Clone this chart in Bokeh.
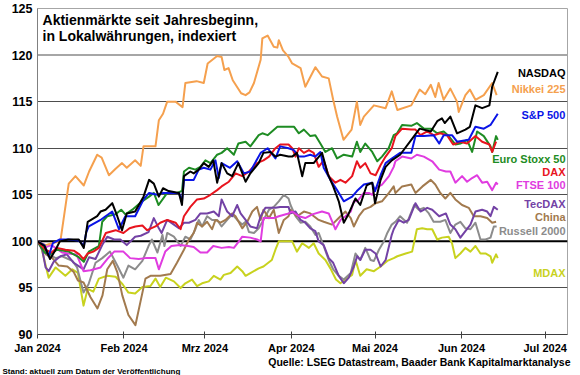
from bokeh.plotting import figure
from bokeh.models import Label, Span, FixedTicker, Title
from bokeh.embed import file_html
from bokeh.resources import INLINE

# ---------------- data (day offset from 1 Jan 2024, index value) ----------------
nasdaq = [(0,100),(2.5,99.5),(4.5,98.1),(6.5,99.1),(8,100.0),(11,100.2),(14.8,100.2),(16.6,99.3),(18,102.1),(21.4,102.7),(22.6,103.2),(24.4,103.4),(26.8,104.1),(28.6,102.7),(30.3,101.2),(32,103.0),(35,103.2),(38,104.8),(40,106.6),(41.7,106.2),(43.5,104.8),(45,105.7),(47,105.4),(50.7,105.2),(51.8,103.9),(52.5,107.0),(54.8,107.5),(56,107.3),(57.8,107.7),(59.6,108.4),(61.4,108.0),(63,108.7),(64.4,106.3),(66,108.4),(68,107.3),(69.8,107.0),(72,108.4),(74.6,106.4),(76.3,107.3),(79.3,108.4),(81,109.5),(83.5,109.6),(85.3,109.1),(87,109.3),(90,109.1),(91.3,109.1),(93,109.5),(94.9,107.0),(96,108.4),(99,108.4),(102,109.5),(104,107.3),(106,105.9),(108,104.3),(109.8,102.0),(111.6,103.0),(114,104.6),(115.7,103.9),(118,106.0),(120,106.3),(121,104.1),(123,106.6),(124.8,108.0),(127,108.7),(130,109.3),(135,111.3),(137,112.1),(141,111.8),(143.3,112.9),(145,113.2),(146,112.7),(148,113.4),(150.4,111.6),(153.4,112.0),(155,112.3),(157,114.6),(159.4,114.3),(162,114.6),(163,116.6),(165,118.2)]
nikkei = [(0,100),(3,99.6),(5,99.8),(8.2,100.0),(11.2,106.2),(13.6,107.0),(16.6,106.0),(18.5,107.5),(21.4,109.3),(23,109.0),(25.6,107.1),(28,107.8),(30.3,108.4),(32,107.9),(35,108.7),(37,108.1),(38,110.2),(42.3,110.2),(43.5,113.0),(45,113.7),(46.5,115.0),(49.5,115.0),(52,114.4),(53,117.0),(57,117.2),(59.6,117.0),(61,119.1),(64.4,119.9),(66,119.8),(67,118.4),(68.5,118.6),(70,117.3),(73,115.9),(74.6,115.7),(76,116.0),(77.6,117.0),(80,119.5),(80.6,121.8),(82.5,122.1),(84.7,120.9),(86,120.8),(86.5,121.6),(88,120.5),(90,119.8),(91.3,119.1),(94.3,118.6),(96,116.6),(99.6,118.7),(102,117.7),(104.4,117.5),(106,115.2),(107.4,113.4),(109.7,110.9),(112.6,112.0),(114.5,115.0),(115.7,112.5),(117,113.4),(120.6,114.6),(124.8,114.3),(127,116.1),(129,114.1),(134,114.6),(137,116.3),(139,115.8),(141,116.8),(142.6,115.5),(143.8,117.0),(145.6,115.2),(148,116.4),(150.4,115.0),(151,113.9),(153.4,115.7),(155,116.3),(157,115.2),(160,115.7),(163,117.0),(164.6,115.7)]
sp500 = [(0,100),(2.5,99.6),(4,98.4),(5.5,99.8),(8,100.2),(11,100.2),(14.8,100.1),(16.6,99.5),(17.5,101.0),(18.4,101.6),(22.6,102.3),(24.4,102.7),(26.8,103.2),(29.2,101.3),(31.5,102.7),(35,102.7),(38,104.5),(40,105.2),(43,105.0),(45,105.2),(47,105.2),(50.7,105.2),(51.8,104.3),(52.5,106.6),(56,106.6),(57.8,107.7),(59.6,107.9),(62,107.7),(63.8,108.7),(65,106.8),(66,108.4),(69,107.9),(71.6,108.6),(74,107.3),(76.3,107.5),(80,109.5),(82.5,110.0),(85.3,108.9),(87,110.2),(90,110.0),(91.9,109.8),(93.7,109.1),(95.5,109.1),(97.8,109.3),(99.6,109.1),(101.4,109.6),(102.6,107.9),(105,106.6),(107.4,105.5),(109.8,104.3),(112.8,104.8),(114.5,105.4),(117,106.1),(120,106.3),(121,105.4),(123,107.1),(124.8,108.4),(127,108.9),(130,109.5),(134,109.5),(135.5,111.3),(138.5,111.3),(142,111.4),(144,110.5),(145.6,111.4),(148.6,111.4),(150.4,110.7),(154.6,110.9),(157,112.3),(160,112.1),(162.4,112.5),(165,113.7)]
stoxx50 = [(0,100),(2.5,98.8),(4.5,98.6),(7,99.1),(11.2,98.9),(14.8,98.3),(16.6,97.8),(18.4,98.9),(22,99.5),(23.2,102.1),(25,102.7),(28,102.9),(30,103.4),(31.5,102.9),(34,103.4),(37.5,104.3),(40,104.8),(41.7,105.2),(43.4,103.9),(46.5,105.2),(50,105.2),(51.8,105.4),(52.5,107.5),(54.3,107.9),(56.6,107.7),(58.4,108.0),(60.2,108.7),(62,108.4),(64.4,109.3),(66,109.5),(68,110.0),(70.4,109.3),(72,110.5),(74.6,110.7),(76.3,110.2),(79.3,111.4),(80.6,111.6),(82.5,111.4),(86,112.3),(90,112.3),(92,112.3),(93.7,111.6),(95.5,112.0),(97.8,111.3),(99.6,111.4),(101.4,110.5),(103.2,109.6),(105.6,110.0),(107.4,108.9),(109.8,109.3),(112.8,109.1),(114.5,110.7),(115.7,109.6),(117.5,110.5),(120,109.6),(121.8,108.6),(123.5,109.1),(125.9,110.0),(127.7,111.4),(128.9,111.6),(130.7,112.5),(134,112.4),(136,112.7),(138.5,112.1),(141,112.1),(143.3,111.6),(145.6,111.8),(147.4,111.3),(149.8,110.4),(151.6,110.5),(154,110.9),(155.8,109.6),(157.6,111.8),(160,111.3),(162.4,110.2),(163,109.6),(164.4,111.3),(165,110.9)]
dax = [(0,100),(2.9,99.1),(5,98.8),(7,99.3),(10,99.1),(13,99.0),(15,98.6),(16.5,98.1),(18,98.7),(20,98.9),(22,99.3),(24.5,100.9),(28,101.2),(30.8,100.9),(33,101.4),(35.1,101.6),(37.6,101.7),(39.3,101.2),(42.3,101.6),(44,102.0),(46.5,102.3),(49.5,102.0),(51.3,101.3),(52.5,102.7),(54.8,103.7),(57.2,104.5),(59.6,104.6),(62,105.0),(64.4,105.5),(66,105.9),(68.6,106.4),(71,107.3),(73.4,107.0),(75.8,107.5),(78.7,108.4),(81,108.7),(83,109.1),(85.3,110.0),(87,110.4),(90,110.4),(91.3,110.0),(92.5,109.1),(93.7,110.0),(95.5,109.5),(97.3,109.8),(99,109.5),(100.8,108.0),(102.6,108.7),(104.4,107.0),(106.8,106.3),(108.6,106.6),(110.4,106.3),(112.8,107.0),(114.5,108.6),(115.7,107.9),(117.5,108.4),(119.4,107.3),(121.2,107.1),(123,108.2),(124.8,109.1),(127,110.0),(128.3,111.3),(130.7,112.1),(134,112.0),(135.5,112.0),(137.3,111.4),(139.7,111.8),(142,111.4),(144.4,111.6),(146.8,111.4),(149,110.4),(151.6,110.7),(154,110.5),(157,111.3),(159.4,110.7),(162,110.4),(163,109.6),(164.4,110.7)]
ftse100 = [(0,100),(3,99.4),(5,99.6),(8.8,98.8),(11,98.7),(14,98.6),(16.5,96.8),(19,96.9),(22.6,97.2),(25,98.1),(27.5,98.9),(30.8,98.9),(33.2,98.2),(36.3,98.1),(38.7,98.2),(42.3,98.2),(43.5,97.0),(45.8,98.9),(48,99.5),(51,99.6),(54,99.5),(56,99.4),(58.4,98.8),(60.8,98.8),(63,99.5),(66,99.3),(68.6,99.4),(70.4,99.3),(72.2,100.0),(73.4,100.5),(76.3,100.4),(78.7,100.2),(80,100.0),(81,102.5),(84.7,102.5),(86.5,102.7),(90,103.0),(91.3,103.2),(93.7,102.7),(96,102.5),(98.5,102.9),(102,103.2),(104.4,103.0),(106.8,101.3),(108.6,102.3),(110.4,102.7),(112.3,103.2),(113.4,104.3),(114.6,104.3),(117,105.2),(118.8,105.2),(120,105.0),(121.2,105.7),(123.5,106.1),(126,107.0),(127.7,108.0),(128.3,108.6),(130.7,109.1),(134,108.9),(136,109.3),(138.5,109.1),(141.5,108.6),(144,107.7),(146.4,107.5),(148,107.5),(149.8,106.3),(152.2,107.0),(154,106.4),(155.8,106.8),(157.6,107.1),(159.4,106.3),(161.2,106.4),(163,105.5),(164.4,106.3),(165,106.1)]
tecdax = [(0,100),(1.7,99.1),(2.9,97.2),(4,96.8),(5.8,97.8),(8.2,98.4),(10.5,98.6),(13,97.7),(16.5,97.0),(18.5,98.3),(20.8,98.1),(23.2,99.6),(25,100.5),(27.5,100.2),(29.7,100.2),(32,99.6),(35,100.5),(37,100.6),(39.8,101.0),(41.7,102.5),(43.5,101.4),(44.5,100.9),(46.5,102.3),(48.9,101.8),(50.7,101.4),(52.5,102.0),(54.3,102.0),(56.6,102.3),(58.4,103.0),(60.8,103.0),(63.2,103.2),(65,102.7),(66,104.5),(68,103.2),(69.8,102.7),(71.6,103.9),(72.8,103.0),(74.6,102.3),(76.3,101.6),(78.7,101.4),(80,102.7),(81.7,103.6),(83.5,103.6),(85.3,103.6),(87,103.7),(90,103.7),(90.7,103.0),(92.5,103.2),(94.3,102.3),(96,102.0),(97.8,101.4),(99.6,101.1),(100.8,100.0),(102.6,99.6),(104.4,98.2),(106,97.7),(108,96.3),(109.8,95.5),(111.6,96.1),(113.4,97.3),(114.6,98.4),(115.7,98.0),(117.5,99.1),(119.4,99.1),(121.2,98.7),(123,97.3),(124.8,98.0),(127,100.7),(127.7,101.3),(129.5,102.3),(131.3,102.0),(133.1,102.3),(135.5,104.1),(137.3,103.2),(139.7,103.6),(141.5,103.4),(144,102.7),(146.4,103.0),(148,101.8),(149.8,101.3),(151.6,100.4),(153.4,101.1),(155.2,101.8),(157,103.2),(159.4,103.4),(161.2,103.2),(162.4,102.7),(163.6,103.7),(165,103.4)]
china = [(0,100),(1.7,99.5),(3,98.6),(5,98.3),(7.6,97.4),(10.7,97.3),(13,96.7),(14.5,95.8),(16.5,95.6),(19,94.0),(21.5,92.8),(23.3,94.2),(25,97.0),(27,97.9),(28.6,96.7),(30.4,94.2),(32.6,92.1),(35.1,91.0),(36.9,93.5),(38.7,96.0),(40.5,96.3),(44,96.3),(47.7,96.5),(50,97.7),(52.5,99.1),(54.3,100.2),(56,100.9),(57.2,102.0),(59,101.6),(60.8,102.1),(62.6,101.3),(63.8,102.3),(65.6,102.0),(67.4,102.3),(69.8,103.0),(71,102.7),(73.4,101.4),(75.2,102.1),(77,103.2),(78.7,103.7),(80,102.3),(81,103.4),(83,102.5),(84.7,103.4),(86.5,100.9),(88.3,102.3),(90,102.7),(90.7,103.4),(93,102.7),(95.5,103.2),(97.8,103.0),(100.8,102.3),(102.6,102.1),(105.6,101.8),(108,102.5),(110.4,103.2),(112.3,102.5),(113.4,101.6),(115.2,102.7),(117,103.4),(119.4,103.7),(121.2,104.1),(123.5,104.3),(126,105.2),(127.7,105.9),(128.3,105.2),(130.7,105.9),(134,106.1),(135.5,105.2),(138,105.9),(141,106.6),(142.6,106.1),(144.4,105.2),(146.2,104.6),(148,105.2),(149.8,104.5),(152.2,103.9),(154.6,103.6),(156.4,102.7),(158.8,102.7),(161.2,102.5),(163,102.0),(164.4,102.1)]
russell2000 = [(0,100),(1.7,99.5),(3,98.8),(6.5,98.2),(8.8,98.4),(12.5,97.9),(14.2,97.2),(16.5,94.5),(18.3,95.4),(20.8,97.7),(23.2,98.2),(26,98.9),(28.6,97.4),(30.8,96.1),(32.6,97.4),(35,97.0),(37.6,97.9),(39.8,99.5),(41,100.2),(43,98.8),(44.8,100.7),(45.5,99.5),(46.5,100.9),(48.9,100.5),(51.3,99.5),(53,100.5),(54.8,100.2),(56.6,101.3),(57.8,102.3),(59,101.6),(60.8,102.7),(62.6,102.3),(64.4,102.3),(66,101.6),(68,102.3),(69.8,102.9),(71.6,102.3),(73.4,101.8),(74.6,102.1),(75.8,101.0),(77.6,100.9),(79.3,101.4),(81,102.3),(83,103.4),(84.7,103.7),(86.5,104.3),(88.3,105.0),(90,104.6),(90.7,103.9),(92.5,102.7),(94.3,102.0),(96,102.1),(97.8,101.6),(99.6,100.7),(100.8,100.9),(102.6,99.5),(104.4,98.0),(106,97.0),(108,96.3),(109.8,95.9),(112.3,96.6),(114,98.7),(115.7,98.0),(117.5,99.3),(119.4,98.0),(120.6,97.9),(122.4,99.1),(124.2,100.0),(125.4,100.9),(127,101.8),(128.3,102.1),(130,102.7),(132.5,102.0),(135,103.9),(136.7,103.4),(138.5,103.6),(140.3,103.0),(142,102.1),(144.4,102.1),(146.2,102.3),(148,100.9),(149.8,101.8),(151.6,102.1),(153.4,101.4),(155.2,101.3),(157,102.0),(158.8,100.2),(160.6,100.2),(162.4,100.4),(163.6,101.6),(164.6,101.6)]
mdax = [(0,100),(1,99.8),(4,96.1),(6.5,97.2),(10,96.3),(12.5,97.0),(14.5,96.6),(16.5,93.1),(18,94.9),(20,94.6),(22,96.0),(25,96.3),(28,96.2),(30.5,95.4),(32.6,94.5),(35,94.4),(37.6,95.1),(40.5,95.2),(42.3,96.0),(44,95.1),(46,96.1),(48.9,95.7),(51.3,95.0),(53,95.5),(55.4,95.9),(57.2,95.2),(59,95.5),(61.4,95.7),(63.2,96.3),(65.6,95.9),(66.8,96.4),(69.2,96.6),(71.6,97.3),(73.4,96.8),(74.6,96.3),(76.3,96.6),(79.3,97.1),(81,97.3),(84,98.0),(85.3,99.1),(86.5,100.0),(90,100.0),(91.3,100.0),(93,98.9),(94.9,99.8),(97.3,99.3),(99,99.8),(100.8,98.7),(103.2,98.0),(105,97.1),(107,95.9),(108.6,95.5),(110.4,95.9),(112.8,96.4),(114,98.0),(115.7,96.3),(118,97.0),(120.6,96.8),(123,97.3),(125.4,97.9),(127.7,98.2),(129,98.4),(132,98.7),(134.3,98.9),(136,101.3),(137.9,101.4),(139.7,101.3),(141.5,101.3),(143.3,100.2),(145,100.4),(147.4,100.5),(148.6,99.8),(149.8,98.2),(151.6,98.7),(153.4,99.3),(155.2,98.9),(157,99.5),(158.8,98.7),(160.6,98.7),(162.4,98.4),(163,97.7),(164.4,98.6),(165,98.2)]

series_names = ["NASDAQ", "Nikkei 225", "S&P 500", "Euro Stoxx 50", "DAX", "FTSE 100",
                "TecDAX", "China", "Russell 2000", "MDAX"]
series_data = [nasdaq, nikkei, sp500, stoxx50, dax, ftse100, tecdax, china, russell2000, mdax]

month_days = [0, 31, 60, 91, 121, 152, 182]
month_labels = ["Jan 2024", "Feb 2024", "Mrz 2024", "Apr 2024", "Mai 2024", "Jun 2024", "Jul 2024"]
y_ticks = [90, 95, 100, 105, 110, 115, 120, 125]
base_index = 100

title_lines = ["Aktienmärkte seit Jahresbeginn,", "in Lokalwährungen, indexiert"]
source_text = "Quelle: LSEG Datastream, Baader Bank Kapitalmarktanalyse"
stand_text = "Stand: aktuell zum Datum der Veröffentlichung"

# ---------------- styling ----------------
colors = {"NASDAQ": "#000000", "Nikkei 225": "#F5A04E", "S&P 500": "#0A14E6",
          "Euro Stoxx 50": "#1E8C23", "DAX": "#E8141E", "FTSE 100": "#E03CE0",
          "TecDAX": "#7342A5", "China": "#A27A4E", "Russell 2000": "#8C8C8C",
          "MDAX": "#C8D21E"}
label_y = {"NASDAQ": 118.1, "Nikkei 225": 116.4, "S&P 500": 113.6, "Euro Stoxx 50": 108.8,
           "DAX": 107.4, "FTSE 100": 106.0, "TecDAX": 104.0, "China": 102.6,
           "Russell 2000": 101.1, "MDAX": 96.6}
draw_order = ["MDAX", "Russell 2000", "China", "TecDAX", "FTSE 100", "Nikkei 225",
              "Euro Stoxx 50", "DAX", "S&P 500", "NASDAQ"]
FONT = "Liberation Sans"

p = figure(width=580, height=375, x_range=(0, 190), y_range=(90, 125),
           output_backend="svg", toolbar_location=None,
           min_border_left=37, min_border_right=13, min_border_top=8, min_border_bottom=20)
p.background_fill_color = "white"
p.border_fill_color = "white"
p.outline_line_color = "#A6A6A6"
p.outline_line_width = 1

# axes
p.xaxis.ticker = FixedTicker(ticks=month_days)
p.xaxis.major_label_overrides = {d: lab for d, lab in zip(month_days, month_labels)}
p.xaxis.major_label_text_font = FONT
p.xaxis.major_label_text_font_style = "bold"
p.xaxis.major_label_text_font_size = "11px"
p.xaxis.major_label_text_color = "#000000"
p.xaxis.major_label_standoff = 3
p.xaxis.major_tick_in = 3
p.xaxis.major_tick_out = 4
p.xaxis.minor_tick_line_color = None
p.xaxis.axis_line_color = "#404040"
p.xaxis.major_tick_line_color = "#404040"

p.yaxis.ticker = FixedTicker(ticks=y_ticks)
p.yaxis.major_label_text_font = FONT
p.yaxis.major_label_text_font_style = "bold"
p.yaxis.major_label_text_font_size = "12.5px"
p.yaxis.major_label_text_color = "#000000"
p.yaxis.major_label_standoff = 5
p.yaxis.major_tick_in = 0
p.yaxis.major_tick_out = 0
p.yaxis.minor_tick_line_color = None
p.yaxis.axis_line_color = "#808080"

p.xgrid.grid_line_color = None
p.ygrid.ticker = FixedTicker(ticks=[95, 105, 110, 115])
p.ygrid.grid_line_color = "#4D4D4D"
p.ygrid.grid_line_width = 1

p.add_layout(Span(location=120, dimension="width", line_color="#A6A6A6", line_width=2, level="underlay"))
p.add_layout(Span(location=base_index, dimension="width", line_color="#000000", line_width=2, level="underlay"))

lookup = dict(zip(series_names, series_data))
for name in draw_order:
    pts = lookup[name]
    xs = [d for d, _ in pts]
    ys = [v for _, v in pts]
    p.line(xs, ys, line_color=colors[name], line_width=2, line_join="round")

for name in series_names:
    p.add_layout(Label(x=189.3, y=label_y[name], text=name, text_align="right", text_baseline="middle",
                       text_font=FONT, text_font_style="bold", text_font_size="11px",
                       text_color=colors[name]))

for txt, yv in zip(title_lines, [123.8, 122.1]):
    p.add_layout(Label(x=1.8, y=yv, text=txt, text_baseline="middle",
                       text_font=FONT, text_font_style="bold", text_font_size="14px", text_color="#000000"))

p.add_layout(Title(text=source_text, align="right", vertical_align="middle", offset=-3, standoff=-4,
                   text_font=FONT, text_font_style="bold", text_font_size="10.5px",
                   text_color="#000000"), "below")
p.add_layout(Title(text=stand_text, align="left", vertical_align="middle", offset=-35, standoff=-2,
                   text_font=FONT, text_font_style="bold", text_font_size="8px",
                   text_color="#000000"), "below")

open("out.html", "w").write(file_html(p, INLINE))
